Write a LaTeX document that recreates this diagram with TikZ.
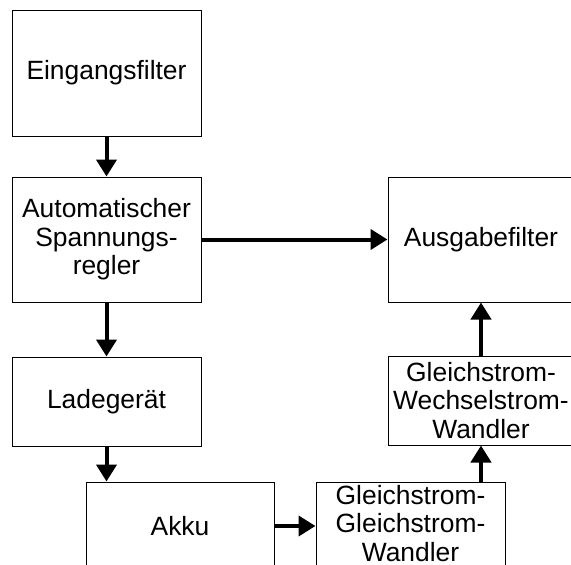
\documentclass[tikz,border=0pt]{standalone}
\usepackage{fontspec}
\setmainfont{Liberation Sans}
\usetikzlibrary{positioning,arrows.meta}
\begin{document}
\begin{tikzpicture}[x=1pt, y=-1pt, node distance={40pt}, main/.style = {draw, rectangle, line width=1pt, minimum width=189pt, inner sep=0pt, align=center, font=\fontsize{26.4pt}{28.5pt}\selectfont}, arr/.style = {line width=4pt, -{Triangle[length=17pt,width=20pt]}}]
\useasboundingbox (0,0) rectangle (571,565);
\clip (0,0) rectangle (571,565);

\node[main, minimum height=126pt] (ein) at (106.5,73) {Eingangsfilter};
\node[main, minimum height=125pt] (auto) [below=40pt of ein] {Automatischer\\Spannungs-\\regler};
\node[main, minimum height=89pt] (lade) [below=54pt of auto] {Ladegerät};
\node[main, minimum height=88pt, minimum width=188pt] (akku) [below=35pt of lade, xshift=73.5pt] {Akku};
\node[main, minimum height=83pt] (gg) [right=41pt of akku.north east, anchor=north west] {Gleichstrom-\\Gleichstrom-\\Wandler};
\node[main, minimum height=89pt, minimum width=186pt] (gw) [above=36pt of gg.north, xshift=70.5pt, anchor=south] {Gleichstrom-\\Wechselstrom-\\Wandler};
\node[main, minimum height=125pt, minimum width=186pt] (aus) [above=53pt of gw] {Ausgabefilter};

\draw[arr] (ein)--(auto);
\draw[arr] (auto)--(aus);
\draw[arr] (auto)--(lade);
\draw[arr] (lade.south)--(lade.south |- akku.north);
\draw[arr] (akku)--(akku -| gg.west);
\draw[arr] (gw.south |- gg.north)--(gw.south);
\draw[arr] (gw)--(aus);

\end{tikzpicture}
\end{document}
